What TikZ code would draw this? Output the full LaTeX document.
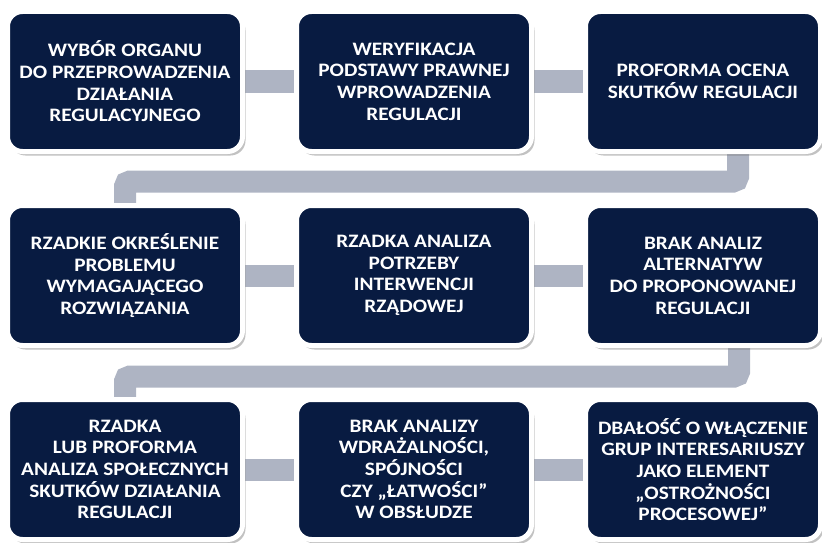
\documentclass[tikz,border=0pt]{standalone}
\usepackage{fontspec}
\setmainfont{Carlito}[FakeStretch=1.12]
\usetikzlibrary{positioning,shadows,backgrounds}
\definecolor{navy}{RGB}{8,27,65}
\definecolor{linkgray}{RGB}{174,180,195}

\begin{document}
\begin{tikzpicture}[
  x=1pt, y=-1pt,
  node distance=54pt and 54pt,
  every node/.style={font=\bfseries\fontsize{19}{21.7}\selectfont},
  box/.style={rectangle, rounded corners=15pt, draw=white, line width=5pt, fill=navy, text=white, align=center,
    minimum width=235pt, minimum height=140pt, outer sep=0pt, inner sep=2mm,
    drop shadow={shadow xshift=3pt, shadow yshift=-4pt, opacity=.4, fill=black!60}},
  link/.style={draw=linkgray, line width=22pt, rounded corners=5pt}]
\useasboundingbox (0,0) rectangle (822,543);
% row 1
\node[box] (b1) at (125,81.5) {WYBÓR ORGANU\\DO PRZEPROWADZENIA\\DZIAŁANIA\\REGULACYJNEGO};
\node[box, right=of b1] (b2) {WERYFIKACJA\\PODSTAWY PRAWNEJ\\WPROWADZENIA\\REGULACJI};
\node[box, right=of b2] (b3) {PROFORMA OCENA\\SKUTKÓW REGULACJI};
% row 2
\node[box, below=of b1] (b4) {RZADKIE OKREŚLENIE\\PROBLEMU\\WYMAGAJĄCEGO\\ROZWIĄZANIA};
\node[box, right=of b4] (b5) {RZADKA ANALIZA\\POTRZEBY\\INTERWENCJI\\RZĄDOWEJ};
\node[box, right=of b5] (b6) {BRAK ANALIZ\\ALTERNATYW\\DO PROPONOWANEJ\\REGULACJI};
% row 3
\node[box, below=of b4] (b7) {RZADKA\\LUB PROFORMA\\ANALIZA SPOŁECZNYCH\\SKUTKÓW DZIAŁANIA\\REGULACJI};
\node[box, right=of b7] (b8) {BRAK ANALIZY\\WDRAŻALNOŚCI,\\SPÓJNOŚCI\\CZY „ŁATWOŚCI”\\W OBSŁUDZE};
\node[box, right=of b8] (b9) {DBAŁOŚĆ O WŁĄCZENIE\\GRUP INTERESARIUSZY\\JAKO ELEMENT\\„OSTROŻNOŚCI\\PROCESOWEJ”};
\begin{scope}[on background layer]
\draw[link] (b1) -- (b2); \draw[link] (b2) -- (b3);
\draw[link] (b4) -- (b5); \draw[link] (b5) -- (b6);
\draw[link] (b7) -- (b8); \draw[link] (b8) -- (b9);
\draw[link] ([xshift=35pt]b3.south) -- ++(0,30) -| (b4.north);
\draw[link] ([xshift=36pt]b6.south) -- ++(0,31) -| (b7.north);
\end{scope}
\end{tikzpicture}
\end{document}
